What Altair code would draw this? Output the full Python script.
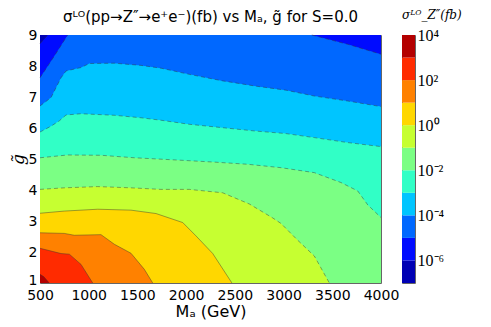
import altair as alt
import pandas as pd

# ---------------- data ----------------
# Contour lines of log10(sigma) as (M_A [GeV], g~) points; several segments per level allowed
LEVELS = [-6, -5, -4, -3, -2, -1, 0, 1, 2, 3]

L_M6 = [([500, 580], [8.72, 9.0])]
L_M5 = [([500, 647, 784], [7.62, 8.32, 9.0]),
        ([3290, 3658, 4000], [9.0, 8.70, 8.38])]
L_M4 = [([500, 613, 716, 767, 921, 1006, 1263, 1537, 1742, 2032, 2375, 2717, 3025, 3316, 3658, 4000],
         [6.71, 6.98, 7.62, 7.84, 7.95, 8.08, 8.09, 8.02, 7.93, 7.73, 7.52, 7.35, 7.22, 7.03, 6.87, 6.69])]
L_M3 = [([500, 613, 698, 767, 921, 1263, 1537, 1742, 2032, 2375, 2717, 3025, 3316, 3658, 4000],
         [5.87, 6.06, 6.23, 6.42, 6.46, 6.41, 6.33, 6.25, 6.12, 6.01, 5.90, 5.82, 5.69, 5.53, 5.40])]
L_M2 = [([500, 784, 1126, 1468, 1947, 2289, 2632, 2974, 3316, 3590, 3761, 3864, 4000],
         [5.04, 5.13, 5.12, 5.04, 4.96, 4.90, 4.83, 4.72, 4.56, 4.24, 3.97, 3.52, 3.11])]
L_M1 = [([500, 749, 1092, 1434, 1742, 2032, 2375, 2648, 2888, 2974, 3145, 3316, 3470],
         [4.02, 4.07, 4.11, 4.07, 4.02, 4.02, 3.91, 3.55, 3.10, 2.92, 2.38, 1.87, 1.0])]
L_0 = [([500, 749, 1092, 1434, 1691, 1965, 2101, 2273, 2470],
        [3.25, 3.32, 3.38, 3.35, 3.24, 2.95, 2.52, 1.95, 1.0])]
L_P1 = [([500, 749, 852, 1126, 1263, 1434, 1571, 1657],
         [2.62, 2.60, 2.54, 2.56, 2.25, 1.96, 1.44, 1.0])]
L_P2 = [([500, 716, 801, 921, 1041], [2.12, 1.95, 1.93, 1.60, 1.0])]
L_P3 = [([500, 540, 595], [1.28, 1.20, 1.0])]

CONTOURS = {-6: L_M6, -5: L_M5, -4: L_M4, -3: L_M3, -2: L_M2,
            -1: L_M1, 0: L_0, 1: L_P1, 2: L_P2, 3: L_P3}

# jet colours of the 11 decade bands, from 10^-7..10^-6 up to 10^3..10^4
BAND_LO = [-7, -6, -5, -4, -3, -2, -1, 0, 1, 2, 3]
BAND_COLORS = ["#0000b4", "#000bff", "#0068ff", "#00c5ff", "#31ffc6", "#7bff84",
               "#c6ff31", "#ffd700", "#ff8100", "#ff2b00", "#b40000"]

X_TICKS = [500, 1000, 1500, 2000, 2500, 3000, 3500, 4000]
Y_TICKS = [1, 2, 3, 4, 5, 6, 7, 8, 9]
CB_TICKS = [-6, -4, -2, 0, 2, 4]

X_MIN, X_MAX, G_MIN, G_MAX = 500, 4000, 1, 9

# ---------------- chart ----------------
x_enc = alt.X("x:Q", scale=alt.Scale(domain=[X_MIN, X_MAX], nice=False, zero=False),
              axis=alt.Axis(values=X_TICKS, format="d", title="Mₐ (GeV)", grid=False, ticks=False,
                            domain=False, labelFontSize=14, labelFont="DejaVu Sans",
                            labelColor="#000", labelPadding=5, labelFlush=False,
                            titleFontSize=16, titleFont="DejaVu Sans", titleFontWeight="normal",
                            titleColor="#000", titlePadding=1))
y_enc = alt.Y("g:Q", scale=alt.Scale(domain=[G_MIN, G_MAX], nice=False, zero=False),
              axis=alt.Axis(values=Y_TICKS, title="g̃", grid=False, ticks=False,
                            domain=False, labelFontSize=14, labelFont="DejaVu Sans",
                            labelColor="#000", labelPadding=3, labelFlush=False,
                            labelOffset={"condition": {"test": "datum.value == 1", "value": -3},
                                         "value": 0},
                            titleFontSize=17, titleFont="DejaVu Serif", titleFontStyle="italic",
                            titleFontWeight="normal", titleColor="#000", titlePadding=1))

layers = []
# background: lowest band everywhere
bg = pd.DataFrame({"x": [X_MIN, X_MAX], "g": [G_MAX, G_MAX], "base": [G_MIN, G_MIN]})
layers.append(alt.Chart(bg).mark_area(color=BAND_COLORS[0], opacity=1)
              .encode(x=x_enc, y=y_enc, y2="base:Q"))

for k in LEVELS:
    xs, gs = [], []
    for sx, sg in CONTOURS[k]:
        xs += list(sx)
        gs += list(sg)
    if xs[-1] < X_MAX and gs[-1] >= G_MAX:
        xs.append(X_MAX)
        gs.append(G_MAX)
    df = pd.DataFrame({"x": xs, "g": gs, "base": [G_MIN] * len(xs)})
    layers.append(alt.Chart(df).mark_area(color=BAND_COLORS[k + 7], opacity=1)
                  .encode(x=x_enc, y=y_enc, y2="base:Q"))

for k in LEVELS:
    for sx, sg in CONTOURS[k]:
        df = pd.DataFrame({"x": sx, "g": sg})
        mk = dict(color="#333333", strokeWidth=0.8, opacity=0.55)
        if k < 0:
            mk["strokeDash"] = [4, 3]
        layers.append(alt.Chart(df).mark_line(**mk).encode(x=x_enc, y=y_enc))

main = alt.layer(*layers).properties(
    width=341, height=248,
    title=alt.TitleParams("σᴸᴼ(pp→Z″→e⁺e⁻)(fb) vs Mₐ, g̃ for S=0.0",
                          fontSize=15, font="DejaVu Sans", fontWeight="normal",
                          color="#000", anchor="middle", offset=3),
)

cb_df = pd.DataFrame({"lo": BAND_LO, "hi": [v + 1 for v in BAND_LO],
                      "band": [str(v) for v in BAND_LO]})
label_expr = ("datum.value == 4 ? '10⁴' : datum.value == 2 ? '10²' : "
              "datum.value == 0 ? '10⁰' : datum.value == -2 ? '10⁻²' : "
              "datum.value == -4 ? '10⁻⁴' : '10⁻⁶'")
colorbar = alt.Chart(cb_df).mark_rect().encode(
    x=alt.value(0), x2=alt.value(13),
    y=alt.Y("lo:Q", scale=alt.Scale(domain=[-7, 4], nice=False, zero=False),
            axis=alt.Axis(orient="right", values=CB_TICKS, labelExpr=label_expr, title=None,
                          grid=False, ticks=False, domain=False, labelFontSize=16,
                          labelFont="Liberation Serif", labelColor="#000", labelPadding=2,
                          labelFlush=False)),
    y2="hi:Q",
    color=alt.Color("band:N", scale=alt.Scale(domain=[str(v) for v in BAND_LO], range=BAND_COLORS),
                    legend=None),
).properties(
    width=13, height=248,
    title=alt.TitleParams("σᴸᴼ_Z″(fb)", fontSize=12, font="DejaVu Serif", fontStyle="italic",
                          fontWeight="normal", color="#000", anchor="start", offset=5),
)

chart = alt.hconcat(main, colorbar, spacing=21, bounds="flush").properties(
    padding={"left": 0, "top": 0, "right": 5, "bottom": 5}
).configure_view(stroke="#666", strokeWidth=1)

chart.save("out.html", embed_options={"renderer": "svg", "actions": False})
